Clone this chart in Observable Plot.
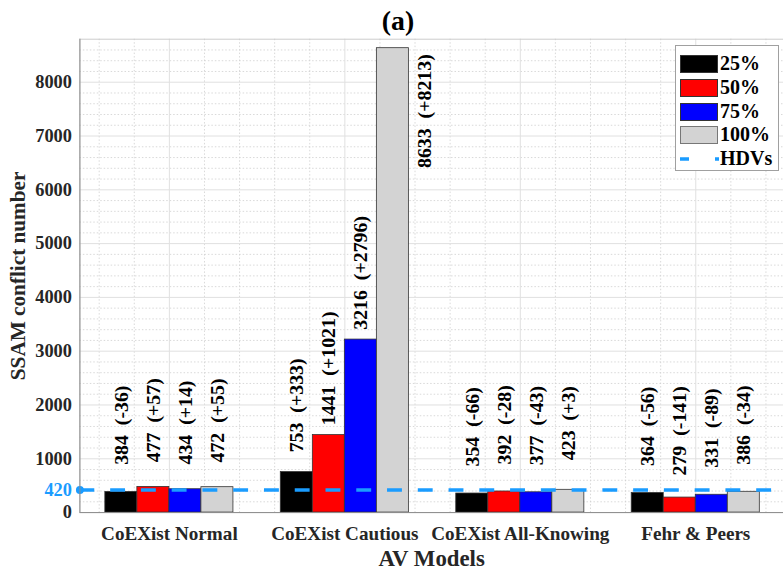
<!DOCTYPE html>
<html>
<head>
<meta charset="utf-8">
<script src="https://cdn.jsdelivr.net/npm/d3@7"></script>
<script src="https://cdn.jsdelivr.net/npm/@observablehq/plot@0.6"></script>
<style>
  html, body { margin: 0; padding: 0; background: #fff; overflow: hidden; }
  #wrap { position: relative; width: 783px; height: 574px; overflow: hidden; }
  #legend { position: absolute; left: 675px; top: 45px; width: 104px; height: 126px;
    border: 1px solid #a0a0a0; background: #fff; box-sizing: border-box;
    font-family: "Liberation Serif", "Times New Roman", serif; font-weight: bold; font-size: 20px; color: #000; }
  .row { position: absolute; left: 0; height: 20px; }
  .sw { position: absolute; left: 4px; top: 1px; width: 38px; height: 18px; box-sizing: border-box; border: 1px solid #333; }
  .lb { position: absolute; left: 44px; top: -3px; line-height: 24px; white-space: nowrap; }
</style>
</head>
<body>
<div id="wrap"><div id="chart"></div><div id="legend"></div></div>
<script>
// ---- data ----
const categories = ["CoEXist Normal", "CoEXist Cautious", "CoEXist All-Knowing", "Fehr & Peers"];
const seriesNames = ["25%", "50%", "75%", "100%"];
const seriesColors = ["#000000", "#ff0000", "#0000ff", "#d3d3d3"];
const values25  = [384, 753, 354, 364];
const values50  = [477, 1441, 392, 279];
const values75  = [434, 3216, 377, 331];
const values100 = [472, 8633, 423, 386];
const diffs25  = ["-36", "+333", "-66", "-56"];
const diffs50  = ["+57", "+1021", "-28", "-141"];
const diffs75  = ["+14", "+2796", "-43", "-89"];
const diffs100 = ["+55", "+8213", "+3", "-34"];
const hdvValue = 420;
const hdvLabel = "HDVs";
const yTickValues = [0, 1000, 2000, 3000, 4000, 5000, 6000, 7000, 8000];
const titleText = "(a)";
const xTitle = "AV Models";
const yTitle = "SSAM conflict number";

// ---- build table ----
const seriesValues = [values25, values50, values75, values100];
const seriesDiffs = [diffs25, diffs50, diffs75, diffs100];
const barW = 0.1825;
const rows = [];
seriesNames.forEach((s, k) => {
  categories.forEach((c, i) => {
    rows.push({cat: i + 1, k, series: s, value: seriesValues[k][i], diff: seriesDiffs[k][i]});
  });
});
const xDomain = [0.49, 4.5];
const yDomain = [0, 8800];
const labelOffset = 1240;
const center = d => d.cat + (d.k - 1.5) * barW;
const fits = d => d.value + labelOffset < yDomain[1] - 500;
const labelX = d => fits(d) ? center(d) : center(d) + barW;
const labelY = d => fits(d) ? d.value + labelOffset : d.value - 1170;

const minorY = d3.range(200, 8800, 200).filter(v => v % 1000 !== 0);
const minorX = d3.range(0.6, 4.5, 0.2).filter(v => Math.abs(v - Math.round(v)) > 0.05);

const serif = '"Liberation Serif", "Times New Roman", serif';
const blue = "#1a9cff";

const chart = Plot.plot({
  width: 789, height: 574,
  marginLeft: 80, marginRight: 0, marginTop: 39, marginBottom: 58,
  x: {domain: xDomain},
  y: {domain: yDomain},
  color: {domain: seriesNames, range: seriesColors},
  style: {fontFamily: serif, color: "#262626", background: "white"},
  marks: [
    Plot.ruleY(minorY, {stroke: "#cfcfcf", strokeDasharray: "1.5,2", strokeWidth: 0.8}),
    Plot.ruleX(minorX, {stroke: "#cfcfcf", strokeDasharray: "1.5,2", strokeWidth: 0.8}),
    Plot.ruleY(yTickValues, {stroke: "#e0e0e0"}),
    Plot.ruleX([1, 2, 3, 4], {stroke: "#e0e0e0"}),
    Plot.frame({stroke: "#cccccc"}),
    Plot.rect(rows, {
      x1: d => d.cat + (d.k - 2) * barW,
      x2: d => d.cat + (d.k - 1) * barW,
      y1: 0, y2: "value", fill: "series", stroke: "#333", strokeWidth: 0.8
    }),
    Plot.ruleY([hdvValue], {stroke: blue, strokeWidth: 3.5, strokeDasharray: "15,16"}),
    Plot.dot([hdvValue], {y: d => d, frameAnchor: "left", r: 4, fill: blue, stroke: null}),
    Plot.ruleX([xDomain[0]], {stroke: "#8c8c8c"}),
    Plot.ruleY([0], {stroke: "#8c8c8c"}),
    Plot.axisY({ticks: yTickValues, tickFormat: d3.format("d"), tickSize: 0, tickPadding: 8,
      fontSize: 18.5, fontWeight: "bold", label: null}),
    Plot.text([hdvValue], {y: d => d, frameAnchor: "left", textAnchor: "end", dx: -8, fill: blue,
      fontSize: 18.5, fontWeight: "bold", text: d => String(d)}),
    Plot.axisX({ticks: [1, 2, 3, 4], tickFormat: i => categories[i - 1], tickSize: 0, tickPadding: 14,
      fontSize: 19.3, fontWeight: "bold", label: null}),
    Plot.text(rows, {x: labelX, y: labelY, text: d => `${d.value}\u2002(${d.diff})`, rotate: -90,
      fontSize: 20, fontWeight: "bold", fill: "#000"}),
    Plot.text([titleText], {frameAnchor: "top", lineAnchor: "middle", textAnchor: "middle", dy: -18, dx: -34,
      fontSize: 28, fontWeight: "bold", fill: "#000"}),
    Plot.text([xTitle], {frameAnchor: "bottom", lineAnchor: "middle", textAnchor: "middle", dy: 46,
      fontSize: 23, fontWeight: "bold", fill: "#262626"}),
    Plot.text([yTitle], {frameAnchor: "left", lineAnchor: "middle", textAnchor: "middle", dx: -62, rotate: -90,
      fontSize: 21.4, fontWeight: "bold", fill: "#262626"})
  ]
});
document.getElementById("chart").appendChild(chart);

// ---- legend ----
const legend = document.getElementById("legend");
const rowTop = i => 8 + i * 23.8;
seriesNames.forEach((s, i) => {
  const r = document.createElement("div");
  r.className = "row"; r.style.top = rowTop(i) + "px";
  r.innerHTML = `<div class="sw" style="background:${seriesColors[i]};${i === 3 ? 'border-color:#777' : ''}"></div><div class="lb">${s}</div>`;
  legend.appendChild(r);
});
const hr = document.createElement("div");
hr.className = "row"; hr.style.top = rowTop(4) + "px";
hr.innerHTML = `<svg width="44" height="20" style="position:absolute;left:3px;top:0"><line x1="1" x2="40" y1="10" y2="10" stroke="${blue}" stroke-width="3.5" stroke-dasharray="9,26"/></svg><div class="lb">${hdvLabel}</div>`;
legend.appendChild(hr);
</script>
</body>
</html>
